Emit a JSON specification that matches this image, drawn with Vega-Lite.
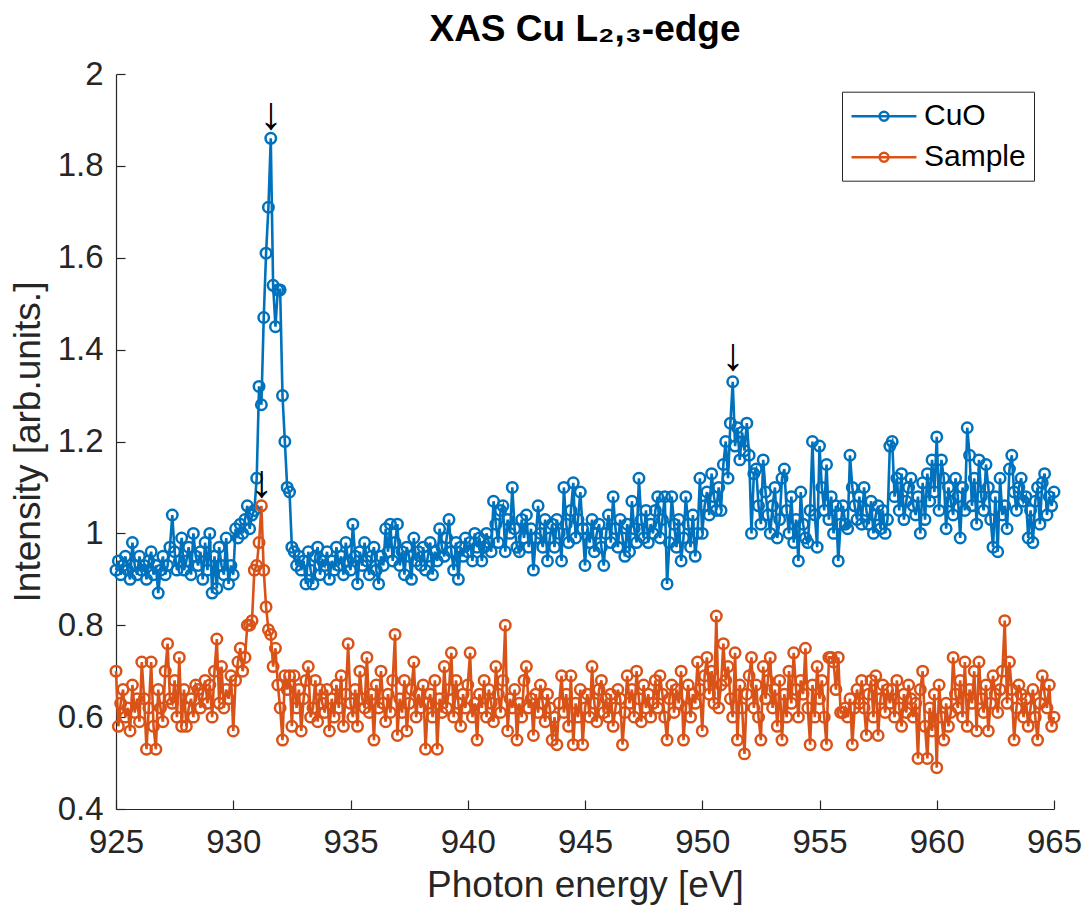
{
"$schema": "https://vega.github.io/schema/vega-lite/v6.json",
"width": 938,
"height": 735,
"autosize": {"type": "none"},
"padding": {"left": 116, "top": 74, "right": 30, "bottom": 97},
"title": {"text": "XAS Cu L₂,₃-edge", "fontSize": 37, "fontWeight": "bold", "color": "#000000", "anchor": "middle", "baseline": "alphabetic", "offset": -20, "font": "Liberation Sans"},
"config": {
  "font": "Liberation Sans",
  "view": {"stroke": null},
  "axis": {"grid": false, "domainColor": "#262626", "domainWidth": 1.2, "tickColor": "#262626", "tickWidth": 1.2, "tickSize": -9, "labelFontSize": 33, "labelColor": "#262626", "labelFont": "Liberation Sans", "labelFlush": false, "titleFontSize": 37, "titleColor": "#262626", "titleFontWeight": "normal", "titleFont": "Liberation Sans"}
},
"datasets": {
"spectra": [
{"energy":925.0,"CuO":0.92,"Sample":0.70},
{"energy":925.1,"CuO":0.94,"Sample":0.58},
{"energy":925.2,"CuO":0.91,"Sample":0.63},
{"energy":925.3,"CuO":0.93,"Sample":0.66},
{"energy":925.4,"CuO":0.95,"Sample":0.60},
{"energy":925.5,"CuO":0.92,"Sample":0.62},
{"energy":925.6,"CuO":0.90,"Sample":0.57},
{"energy":925.7,"CuO":0.98,"Sample":0.67},
{"energy":925.8,"CuO":0.93,"Sample":0.61},
{"energy":925.9,"CuO":0.91,"Sample":0.64},
{"energy":926.0,"CuO":0.95,"Sample":0.59},
{"energy":926.1,"CuO":0.92,"Sample":0.72},
{"energy":926.2,"CuO":0.93,"Sample":0.64},
{"energy":926.3,"CuO":0.90,"Sample":0.53},
{"energy":926.4,"CuO":0.94,"Sample":0.62},
{"energy":926.5,"CuO":0.96,"Sample":0.72},
{"energy":926.6,"CuO":0.91,"Sample":0.58},
{"energy":926.7,"CuO":0.93,"Sample":0.53},
{"energy":926.8,"CuO":0.87,"Sample":0.66},
{"energy":926.9,"CuO":0.92,"Sample":0.62},
{"energy":927.0,"CuO":0.95,"Sample":0.59},
{"energy":927.1,"CuO":0.91,"Sample":0.70},
{"energy":927.2,"CuO":0.93,"Sample":0.76},
{"energy":927.3,"CuO":0.97,"Sample":0.64},
{"energy":927.4,"CuO":1.04,"Sample":0.63},
{"energy":927.5,"CuO":0.96,"Sample":0.68},
{"energy":927.6,"CuO":0.92,"Sample":0.60},
{"energy":927.7,"CuO":0.94,"Sample":0.73},
{"energy":927.8,"CuO":0.99,"Sample":0.58},
{"energy":927.9,"CuO":0.92,"Sample":0.66},
{"energy":928.0,"CuO":0.94,"Sample":0.58},
{"energy":928.1,"CuO":0.97,"Sample":0.62},
{"energy":928.2,"CuO":0.91,"Sample":0.64},
{"energy":928.3,"CuO":1.00,"Sample":0.60},
{"energy":928.4,"CuO":0.95,"Sample":0.67},
{"energy":928.5,"CuO":0.93,"Sample":0.66},
{"energy":928.6,"CuO":0.96,"Sample":0.62},
{"energy":928.7,"CuO":0.90,"Sample":0.65},
{"energy":928.8,"CuO":0.98,"Sample":0.68},
{"energy":928.9,"CuO":0.92,"Sample":0.63},
{"energy":929.0,"CuO":1.00,"Sample":0.67},
{"energy":929.1,"CuO":0.87,"Sample":0.60},
{"energy":929.2,"CuO":0.95,"Sample":0.70},
{"energy":929.3,"CuO":0.88,"Sample":0.77},
{"energy":929.4,"CuO":0.97,"Sample":0.63},
{"energy":929.5,"CuO":0.93,"Sample":0.71},
{"energy":929.6,"CuO":0.91,"Sample":0.62},
{"energy":929.7,"CuO":0.99,"Sample":0.66},
{"energy":929.8,"CuO":0.89,"Sample":0.64},
{"energy":929.9,"CuO":0.93,"Sample":0.69},
{"energy":930.0,"CuO":0.91,"Sample":0.57},
{"energy":930.1,"CuO":1.01,"Sample":0.68},
{"energy":930.2,"CuO":0.99,"Sample":0.72},
{"energy":930.3,"CuO":1.02,"Sample":0.75},
{"energy":930.4,"CuO":1.00,"Sample":0.70},
{"energy":930.5,"CuO":1.03,"Sample":0.73},
{"energy":930.6,"CuO":1.06,"Sample":0.80},
{"energy":930.7,"CuO":1.01,"Sample":0.80},
{"energy":930.8,"CuO":1.04,"Sample":0.81},
{"energy":930.9,"CuO":1.05,"Sample":0.92},
{"energy":931.0,"CuO":1.12,"Sample":0.93},
{"energy":931.1,"CuO":1.32,"Sample":0.98},
{"energy":931.2,"CuO":1.28,"Sample":1.06},
{"energy":931.3,"CuO":1.47,"Sample":0.92},
{"energy":931.4,"CuO":1.61,"Sample":0.84},
{"energy":931.5,"CuO":1.71,"Sample":0.79},
{"energy":931.6,"CuO":1.86,"Sample":0.78},
{"energy":931.7,"CuO":1.54,"Sample":0.71},
{"energy":931.8,"CuO":1.45,"Sample":0.75},
{"energy":931.9,"CuO":1.53,"Sample":0.67},
{"energy":932.0,"CuO":1.53,"Sample":0.62},
{"energy":932.1,"CuO":1.30,"Sample":0.55},
{"energy":932.2,"CuO":1.20,"Sample":0.69},
{"energy":932.3,"CuO":1.10,"Sample":0.66},
{"energy":932.4,"CuO":1.09,"Sample":0.69},
{"energy":932.5,"CuO":0.97,"Sample":0.58},
{"energy":932.6,"CuO":0.96,"Sample":0.69},
{"energy":932.7,"CuO":0.93,"Sample":0.62},
{"energy":932.8,"CuO":0.95,"Sample":0.66},
{"energy":932.9,"CuO":0.92,"Sample":0.57},
{"energy":933.0,"CuO":0.94,"Sample":0.64},
{"energy":933.1,"CuO":0.89,"Sample":0.68},
{"energy":933.2,"CuO":0.96,"Sample":0.71},
{"energy":933.3,"CuO":0.92,"Sample":0.60},
{"energy":933.4,"CuO":0.89,"Sample":0.62},
{"energy":933.5,"CuO":0.95,"Sample":0.68},
{"energy":933.6,"CuO":0.97,"Sample":0.59},
{"energy":933.7,"CuO":0.91,"Sample":0.66},
{"energy":933.8,"CuO":0.94,"Sample":0.63},
{"energy":933.9,"CuO":0.93,"Sample":0.61},
{"energy":934.0,"CuO":0.96,"Sample":0.66},
{"energy":934.1,"CuO":0.90,"Sample":0.57},
{"energy":934.2,"CuO":0.94,"Sample":0.64},
{"energy":934.3,"CuO":0.92,"Sample":0.60},
{"energy":934.4,"CuO":0.97,"Sample":0.67},
{"energy":934.5,"CuO":0.93,"Sample":0.62},
{"energy":934.6,"CuO":0.95,"Sample":0.69},
{"energy":934.7,"CuO":0.91,"Sample":0.58},
{"energy":934.8,"CuO":0.98,"Sample":0.65},
{"energy":934.9,"CuO":0.94,"Sample":0.76},
{"energy":935.0,"CuO":0.92,"Sample":0.63},
{"energy":935.1,"CuO":1.02,"Sample":0.60},
{"energy":935.2,"CuO":0.95,"Sample":0.66},
{"energy":935.3,"CuO":0.89,"Sample":0.58},
{"energy":935.4,"CuO":0.96,"Sample":0.70},
{"energy":935.5,"CuO":0.93,"Sample":0.64},
{"energy":935.6,"CuO":0.98,"Sample":0.62},
{"energy":935.7,"CuO":0.94,"Sample":0.73},
{"energy":935.8,"CuO":0.91,"Sample":0.61},
{"energy":935.9,"CuO":0.95,"Sample":0.65},
{"energy":936.0,"CuO":0.97,"Sample":0.55},
{"energy":936.1,"CuO":0.92,"Sample":0.67},
{"energy":936.2,"CuO":0.89,"Sample":0.62},
{"energy":936.3,"CuO":0.95,"Sample":0.70},
{"energy":936.4,"CuO":0.93,"Sample":0.63},
{"energy":936.5,"CuO":1.01,"Sample":0.59},
{"energy":936.6,"CuO":0.96,"Sample":0.65},
{"energy":936.7,"CuO":1.02,"Sample":0.61},
{"energy":936.8,"CuO":0.94,"Sample":0.68},
{"energy":936.9,"CuO":0.98,"Sample":0.78},
{"energy":937.0,"CuO":1.02,"Sample":0.56},
{"energy":937.1,"CuO":0.93,"Sample":0.64},
{"energy":937.2,"CuO":0.96,"Sample":0.61},
{"energy":937.3,"CuO":0.91,"Sample":0.68},
{"energy":937.4,"CuO":0.97,"Sample":0.57},
{"energy":937.5,"CuO":0.95,"Sample":0.63},
{"energy":937.6,"CuO":0.90,"Sample":0.66},
{"energy":937.7,"CuO":0.99,"Sample":0.72},
{"energy":937.8,"CuO":0.94,"Sample":0.60},
{"energy":937.9,"CuO":0.96,"Sample":0.65},
{"energy":938.0,"CuO":0.93,"Sample":0.62},
{"energy":938.1,"CuO":0.97,"Sample":0.67},
{"energy":938.2,"CuO":0.92,"Sample":0.53},
{"energy":938.3,"CuO":0.95,"Sample":0.63},
{"energy":938.4,"CuO":0.98,"Sample":0.65},
{"energy":938.5,"CuO":0.91,"Sample":0.60},
{"energy":938.6,"CuO":0.96,"Sample":0.68},
{"energy":938.7,"CuO":0.94,"Sample":0.53},
{"energy":938.8,"CuO":1.01,"Sample":0.64},
{"energy":938.9,"CuO":0.97,"Sample":0.61},
{"energy":939.0,"CuO":0.95,"Sample":0.71},
{"energy":939.1,"CuO":0.99,"Sample":0.62},
{"energy":939.2,"CuO":1.03,"Sample":0.66},
{"energy":939.3,"CuO":0.96,"Sample":0.74},
{"energy":939.4,"CuO":0.92,"Sample":0.60},
{"energy":939.5,"CuO":0.98,"Sample":0.68},
{"energy":939.6,"CuO":0.90,"Sample":0.63},
{"energy":939.7,"CuO":0.97,"Sample":0.58},
{"energy":939.8,"CuO":0.95,"Sample":0.65},
{"energy":939.9,"CuO":0.99,"Sample":0.62},
{"energy":940.0,"CuO":0.96,"Sample":0.67},
{"energy":940.1,"CuO":0.98,"Sample":0.74},
{"energy":940.2,"CuO":0.94,"Sample":0.60},
{"energy":940.3,"CuO":1.00,"Sample":0.63},
{"energy":940.4,"CuO":0.97,"Sample":0.55},
{"energy":940.5,"CuO":0.99,"Sample":0.65},
{"energy":940.6,"CuO":0.94,"Sample":0.62},
{"energy":940.7,"CuO":0.97,"Sample":0.68},
{"energy":940.8,"CuO":1.00,"Sample":0.60},
{"energy":940.9,"CuO":0.98,"Sample":0.66},
{"energy":941.0,"CuO":0.96,"Sample":0.63},
{"energy":941.1,"CuO":1.07,"Sample":0.59},
{"energy":941.2,"CuO":1.02,"Sample":0.71},
{"energy":941.3,"CuO":0.98,"Sample":0.65},
{"energy":941.4,"CuO":1.05,"Sample":0.61},
{"energy":941.5,"CuO":1.06,"Sample":0.68},
{"energy":941.6,"CuO":0.96,"Sample":0.80},
{"energy":941.7,"CuO":1.03,"Sample":0.57},
{"energy":941.8,"CuO":1.00,"Sample":0.64},
{"energy":941.9,"CuO":1.10,"Sample":0.62},
{"energy":942.0,"CuO":1.01,"Sample":0.66},
{"energy":942.1,"CuO":0.97,"Sample":0.55},
{"energy":942.2,"CuO":0.96,"Sample":0.63},
{"energy":942.3,"CuO":1.03,"Sample":0.60},
{"energy":942.4,"CuO":0.99,"Sample":0.68},
{"energy":942.5,"CuO":1.04,"Sample":0.71},
{"energy":942.6,"CuO":0.97,"Sample":0.62},
{"energy":942.7,"CuO":1.01,"Sample":0.64},
{"energy":942.8,"CuO":0.92,"Sample":0.56},
{"energy":942.9,"CuO":0.99,"Sample":0.65},
{"energy":943.0,"CuO":1.06,"Sample":0.61},
{"energy":943.1,"CuO":1.00,"Sample":0.67},
{"energy":943.2,"CuO":0.97,"Sample":0.63},
{"energy":943.3,"CuO":1.03,"Sample":0.59},
{"energy":943.4,"CuO":0.94,"Sample":0.65},
{"energy":943.5,"CuO":0.99,"Sample":0.62},
{"energy":943.6,"CuO":1.02,"Sample":0.55},
{"energy":943.7,"CuO":0.97,"Sample":0.60},
{"energy":943.8,"CuO":1.03,"Sample":0.54},
{"energy":943.9,"CuO":1.00,"Sample":0.63},
{"energy":944.0,"CuO":0.94,"Sample":0.69},
{"energy":944.1,"CuO":1.10,"Sample":0.61},
{"energy":944.2,"CuO":1.02,"Sample":0.65},
{"energy":944.3,"CuO":0.98,"Sample":0.58},
{"energy":944.4,"CuO":1.05,"Sample":0.69},
{"energy":944.5,"CuO":1.11,"Sample":0.54},
{"energy":944.6,"CuO":0.99,"Sample":0.63},
{"energy":944.7,"CuO":1.03,"Sample":0.60},
{"energy":944.8,"CuO":1.09,"Sample":0.66},
{"energy":944.9,"CuO":1.01,"Sample":0.54},
{"energy":945.0,"CuO":0.93,"Sample":0.62},
{"energy":945.1,"CuO":1.01,"Sample":0.65},
{"energy":945.2,"CuO":0.98,"Sample":0.60},
{"energy":945.3,"CuO":1.03,"Sample":0.71},
{"energy":945.4,"CuO":0.96,"Sample":0.63},
{"energy":945.5,"CuO":1.00,"Sample":0.59},
{"energy":945.6,"CuO":1.02,"Sample":0.66},
{"energy":945.7,"CuO":0.97,"Sample":0.68},
{"energy":945.8,"CuO":0.93,"Sample":0.61},
{"energy":945.9,"CuO":1.00,"Sample":0.64},
{"energy":946.0,"CuO":1.04,"Sample":0.60},
{"energy":946.1,"CuO":0.98,"Sample":0.65},
{"energy":946.2,"CuO":1.08,"Sample":0.58},
{"energy":946.3,"CuO":1.01,"Sample":0.62},
{"energy":946.4,"CuO":0.97,"Sample":0.66},
{"energy":946.5,"CuO":1.03,"Sample":0.64},
{"energy":946.6,"CuO":0.99,"Sample":0.54},
{"energy":946.7,"CuO":0.95,"Sample":0.61},
{"energy":946.8,"CuO":1.02,"Sample":0.69},
{"energy":946.9,"CuO":0.96,"Sample":0.63},
{"energy":947.0,"CuO":1.07,"Sample":0.66},
{"energy":947.1,"CuO":1.01,"Sample":0.60},
{"energy":947.2,"CuO":0.98,"Sample":0.70},
{"energy":947.3,"CuO":1.12,"Sample":0.64},
{"energy":947.4,"CuO":1.03,"Sample":0.59},
{"energy":947.5,"CuO":0.99,"Sample":0.67},
{"energy":947.6,"CuO":1.05,"Sample":0.62},
{"energy":947.7,"CuO":0.98,"Sample":0.65},
{"energy":947.8,"CuO":1.02,"Sample":0.60},
{"energy":947.9,"CuO":1.00,"Sample":0.63},
{"energy":948.0,"CuO":1.05,"Sample":0.68},
{"energy":948.1,"CuO":1.08,"Sample":0.62},
{"energy":948.2,"CuO":0.99,"Sample":0.69},
{"energy":948.3,"CuO":1.03,"Sample":0.65},
{"energy":948.4,"CuO":1.08,"Sample":0.60},
{"energy":948.5,"CuO":0.89,"Sample":0.55},
{"energy":948.6,"CuO":0.98,"Sample":0.64},
{"energy":948.7,"CuO":1.08,"Sample":0.67},
{"energy":948.8,"CuO":1.02,"Sample":0.61},
{"energy":948.9,"CuO":0.97,"Sample":0.66},
{"energy":949.0,"CuO":1.03,"Sample":0.63},
{"energy":949.1,"CuO":0.94,"Sample":0.70},
{"energy":949.2,"CuO":0.99,"Sample":0.55},
{"energy":949.3,"CuO":1.08,"Sample":0.62},
{"energy":949.4,"CuO":1.02,"Sample":0.67},
{"energy":949.5,"CuO":0.97,"Sample":0.60},
{"energy":949.6,"CuO":1.04,"Sample":0.65},
{"energy":949.7,"CuO":0.95,"Sample":0.63},
{"energy":949.8,"CuO":1.00,"Sample":0.72},
{"energy":949.9,"CuO":1.12,"Sample":0.66},
{"energy":950.0,"CuO":1.00,"Sample":0.57},
{"energy":950.1,"CuO":1.06,"Sample":0.69},
{"energy":950.2,"CuO":1.09,"Sample":0.73},
{"energy":950.3,"CuO":1.04,"Sample":0.65},
{"energy":950.4,"CuO":1.13,"Sample":0.70},
{"energy":950.5,"CuO":1.08,"Sample":0.63},
{"energy":950.6,"CuO":1.05,"Sample":0.82},
{"energy":950.7,"CuO":1.10,"Sample":0.62},
{"energy":950.8,"CuO":1.05,"Sample":0.67},
{"energy":950.9,"CuO":1.15,"Sample":0.76},
{"energy":951.0,"CuO":1.20,"Sample":0.68},
{"energy":951.1,"CuO":1.12,"Sample":0.71},
{"energy":951.2,"CuO":1.24,"Sample":0.64},
{"energy":951.3,"CuO":1.33,"Sample":0.60},
{"energy":951.4,"CuO":1.19,"Sample":0.74},
{"energy":951.5,"CuO":1.23,"Sample":0.55},
{"energy":951.6,"CuO":1.16,"Sample":0.67},
{"energy":951.7,"CuO":1.22,"Sample":0.62},
{"energy":951.8,"CuO":1.18,"Sample":0.52},
{"energy":951.9,"CuO":1.24,"Sample":0.65},
{"energy":952.0,"CuO":1.17,"Sample":0.69},
{"energy":952.1,"CuO":1.00,"Sample":0.73},
{"energy":952.2,"CuO":1.13,"Sample":0.62},
{"energy":952.3,"CuO":1.14,"Sample":0.67},
{"energy":952.4,"CuO":1.06,"Sample":0.60},
{"energy":952.5,"CuO":1.02,"Sample":0.55},
{"energy":952.6,"CuO":1.16,"Sample":0.71},
{"energy":952.7,"CuO":1.09,"Sample":0.64},
{"energy":952.8,"CuO":1.04,"Sample":0.68},
{"energy":952.9,"CuO":1.00,"Sample":0.73},
{"energy":953.0,"CuO":1.06,"Sample":0.62},
{"energy":953.1,"CuO":1.10,"Sample":0.66},
{"energy":953.2,"CuO":0.99,"Sample":0.58},
{"energy":953.3,"CuO":1.03,"Sample":0.68},
{"energy":953.4,"CuO":1.12,"Sample":0.55},
{"energy":953.5,"CuO":1.14,"Sample":0.65},
{"energy":953.6,"CuO":1.05,"Sample":0.60},
{"energy":953.7,"CuO":1.00,"Sample":0.70},
{"energy":953.8,"CuO":1.08,"Sample":0.63},
{"energy":953.9,"CuO":0.98,"Sample":0.74},
{"energy":954.0,"CuO":1.03,"Sample":0.66},
{"energy":954.1,"CuO":0.94,"Sample":0.60},
{"energy":954.2,"CuO":1.09,"Sample":0.68},
{"energy":954.3,"CuO":1.02,"Sample":0.65},
{"energy":954.4,"CuO":0.99,"Sample":0.75},
{"energy":954.5,"CuO":0.98,"Sample":0.62},
{"energy":954.6,"CuO":1.05,"Sample":0.54},
{"energy":954.7,"CuO":1.20,"Sample":0.67},
{"energy":954.8,"CuO":1.04,"Sample":0.60},
{"energy":954.9,"CuO":0.97,"Sample":0.71},
{"energy":955.0,"CuO":1.19,"Sample":0.64},
{"energy":955.1,"CuO":1.10,"Sample":0.68},
{"energy":955.2,"CuO":1.05,"Sample":0.60},
{"energy":955.3,"CuO":1.15,"Sample":0.54},
{"energy":955.4,"CuO":1.03,"Sample":0.73},
{"energy":955.5,"CuO":1.08,"Sample":0.73},
{"energy":955.6,"CuO":1.00,"Sample":0.72},
{"energy":955.7,"CuO":1.06,"Sample":0.66},
{"energy":955.8,"CuO":0.94,"Sample":0.73},
{"energy":955.9,"CuO":1.02,"Sample":0.61},
{"energy":956.0,"CuO":1.06,"Sample":0.61},
{"energy":956.1,"CuO":1.02,"Sample":0.62},
{"energy":956.2,"CuO":1.01,"Sample":0.60},
{"energy":956.3,"CuO":1.17,"Sample":0.64},
{"energy":956.4,"CuO":1.10,"Sample":0.54},
{"energy":956.5,"CuO":1.06,"Sample":0.62},
{"energy":956.6,"CuO":1.03,"Sample":0.66},
{"energy":956.7,"CuO":1.08,"Sample":0.63},
{"energy":956.8,"CuO":1.02,"Sample":0.68},
{"energy":956.9,"CuO":1.10,"Sample":0.62},
{"energy":957.0,"CuO":1.05,"Sample":0.56},
{"energy":957.1,"CuO":1.02,"Sample":0.65},
{"energy":957.2,"CuO":1.07,"Sample":0.68},
{"energy":957.3,"CuO":1.00,"Sample":0.60},
{"energy":957.4,"CuO":1.04,"Sample":0.69},
{"energy":957.5,"CuO":1.06,"Sample":0.56},
{"energy":957.6,"CuO":1.01,"Sample":0.64},
{"energy":957.7,"CuO":1.05,"Sample":0.67},
{"energy":957.8,"CuO":1.00,"Sample":0.61},
{"energy":957.9,"CuO":1.03,"Sample":0.66},
{"energy":958.0,"CuO":1.19,"Sample":0.63},
{"energy":958.1,"CuO":1.20,"Sample":0.66},
{"energy":958.2,"CuO":1.08,"Sample":0.60},
{"energy":958.3,"CuO":1.12,"Sample":0.68},
{"energy":958.4,"CuO":1.05,"Sample":0.62},
{"energy":958.5,"CuO":1.13,"Sample":0.58},
{"energy":958.6,"CuO":1.03,"Sample":0.65},
{"energy":958.7,"CuO":1.07,"Sample":0.61},
{"energy":958.8,"CuO":1.10,"Sample":0.67},
{"energy":958.9,"CuO":1.12,"Sample":0.64},
{"energy":959.0,"CuO":1.06,"Sample":0.60},
{"energy":959.1,"CuO":1.04,"Sample":0.63},
{"energy":959.2,"CuO":1.08,"Sample":0.51},
{"energy":959.3,"CuO":1.00,"Sample":0.66},
{"energy":959.4,"CuO":1.11,"Sample":0.70},
{"energy":959.5,"CuO":1.03,"Sample":0.58},
{"energy":959.6,"CuO":1.13,"Sample":0.51},
{"energy":959.7,"CuO":1.07,"Sample":0.62},
{"energy":959.8,"CuO":1.16,"Sample":0.57},
{"energy":959.9,"CuO":1.09,"Sample":0.65},
{"energy":960.0,"CuO":1.21,"Sample":0.49},
{"energy":960.1,"CuO":1.05,"Sample":0.67},
{"energy":960.2,"CuO":1.16,"Sample":0.60},
{"energy":960.3,"CuO":1.12,"Sample":0.55},
{"energy":960.4,"CuO":1.01,"Sample":0.63},
{"energy":960.5,"CuO":1.10,"Sample":0.58},
{"energy":960.6,"CuO":1.07,"Sample":0.61},
{"energy":960.7,"CuO":1.04,"Sample":0.73},
{"energy":960.8,"CuO":1.12,"Sample":0.65},
{"energy":960.9,"CuO":1.08,"Sample":0.62},
{"energy":961.0,"CuO":0.99,"Sample":0.68},
{"energy":961.1,"CuO":1.10,"Sample":0.60},
{"energy":961.2,"CuO":1.05,"Sample":0.72},
{"energy":961.3,"CuO":1.23,"Sample":0.58},
{"energy":961.4,"CuO":1.17,"Sample":0.66},
{"energy":961.5,"CuO":1.06,"Sample":0.63},
{"energy":961.6,"CuO":1.12,"Sample":0.70},
{"energy":961.7,"CuO":1.02,"Sample":0.57},
{"energy":961.8,"CuO":1.16,"Sample":0.72},
{"energy":961.9,"CuO":1.08,"Sample":0.64},
{"energy":962.0,"CuO":1.05,"Sample":0.61},
{"energy":962.1,"CuO":1.15,"Sample":0.67},
{"energy":962.2,"CuO":1.10,"Sample":0.57},
{"energy":962.3,"CuO":1.03,"Sample":0.63},
{"energy":962.4,"CuO":0.97,"Sample":0.69},
{"energy":962.5,"CuO":1.08,"Sample":0.65},
{"energy":962.6,"CuO":0.96,"Sample":0.61},
{"energy":962.7,"CuO":1.12,"Sample":0.66},
{"energy":962.8,"CuO":1.04,"Sample":0.70},
{"energy":962.9,"CuO":1.06,"Sample":0.81},
{"energy":963.0,"CuO":1.01,"Sample":0.63},
{"energy":963.1,"CuO":1.14,"Sample":0.72},
{"energy":963.2,"CuO":1.17,"Sample":0.66},
{"energy":963.3,"CuO":1.09,"Sample":0.55},
{"energy":963.4,"CuO":1.05,"Sample":0.62},
{"energy":963.5,"CuO":1.10,"Sample":0.67},
{"energy":963.6,"CuO":1.12,"Sample":0.65},
{"energy":963.7,"CuO":1.07,"Sample":0.60},
{"energy":963.8,"CuO":1.08,"Sample":0.64},
{"energy":963.9,"CuO":0.99,"Sample":0.58},
{"energy":964.0,"CuO":1.05,"Sample":0.62},
{"energy":964.1,"CuO":0.98,"Sample":0.66},
{"energy":964.2,"CuO":1.07,"Sample":0.60},
{"energy":964.3,"CuO":1.10,"Sample":0.55},
{"energy":964.4,"CuO":1.02,"Sample":0.63},
{"energy":964.5,"CuO":1.11,"Sample":0.69},
{"energy":964.6,"CuO":1.13,"Sample":0.65},
{"energy":964.7,"CuO":1.04,"Sample":0.62},
{"energy":964.8,"CuO":1.08,"Sample":0.67},
{"energy":964.9,"CuO":1.06,"Sample":0.58},
{"energy":965.0,"CuO":1.09,"Sample":0.60}
],
"arrows": [
{"energy":931.6,"intensity":1.88},
{"energy":951.3,"intensity":1.355},
{"energy":931.2,"intensity":1.08}
]
},
"layer": [
{
  "data": {"name": "spectra"},
  "transform": [{"fold": ["CuO", "Sample"], "as": ["series", "intensity"]}],
  "mark": {"type": "line", "strokeWidth": 2.6, "point": {"filled": false, "size": 110, "strokeWidth": 2.5, "shape": "circle"}},
  "encoding": {
    "x": {"field": "energy", "type": "quantitative", "scale": {"domain": [925, 965], "nice": false, "zero": false},
          "axis": {"title": "Photon energy [eV]", "values": [925,930,935,940,945,950,955,960,965], "format": "d", "labelPadding": 26, "titlePadding": 8}},
    "y": {"field": "intensity", "type": "quantitative", "scale": {"domain": [0.4, 2], "nice": false, "zero": false},
          "axis": {"title": "Intensity [arb.units.]", "values": [0.4,0.6,0.8,1,1.2,1.4,1.6,1.8,2], "format": "~g", "labelPadding": 22, "titlePadding": 10}},
    "color": {"field": "series", "type": "nominal", "scale": {"domain": ["CuO", "Sample"], "range": ["#0072BD", "#D95319"]},
      "legend": {"title": null, "orient": "none", "legendX": 726, "legendY": 17.7,
        "symbolType": "M-1,0L3.33,0M0.867,0A0.3,0.3,0,1,1,1.467,0A0.3,0.3,0,1,1,0.867,0",
        "symbolSize": 900, "symbolStrokeWidth": 2.4, "symbolFillColor": "transparent",
        "labelFontSize": 30, "labelColor": "#000000", "labelFont": "Liberation Sans",
        "strokeColor": "#262626", "fillColor": "#ffffff", "padding": 8, "rowPadding": 9, "labelOffset": 41}}
  }
},
{
  "data": {"name": "arrows"},
  "mark": {"type": "text", "text": "↓", "fontSize": 46, "baseline": "alphabetic", "align": "center", "color": "#000000", "font": "Liberation Sans"},
  "encoding": {
    "x": {"field": "energy", "type": "quantitative"},
    "y": {"field": "intensity", "type": "quantitative"}
  }
}
]
}
